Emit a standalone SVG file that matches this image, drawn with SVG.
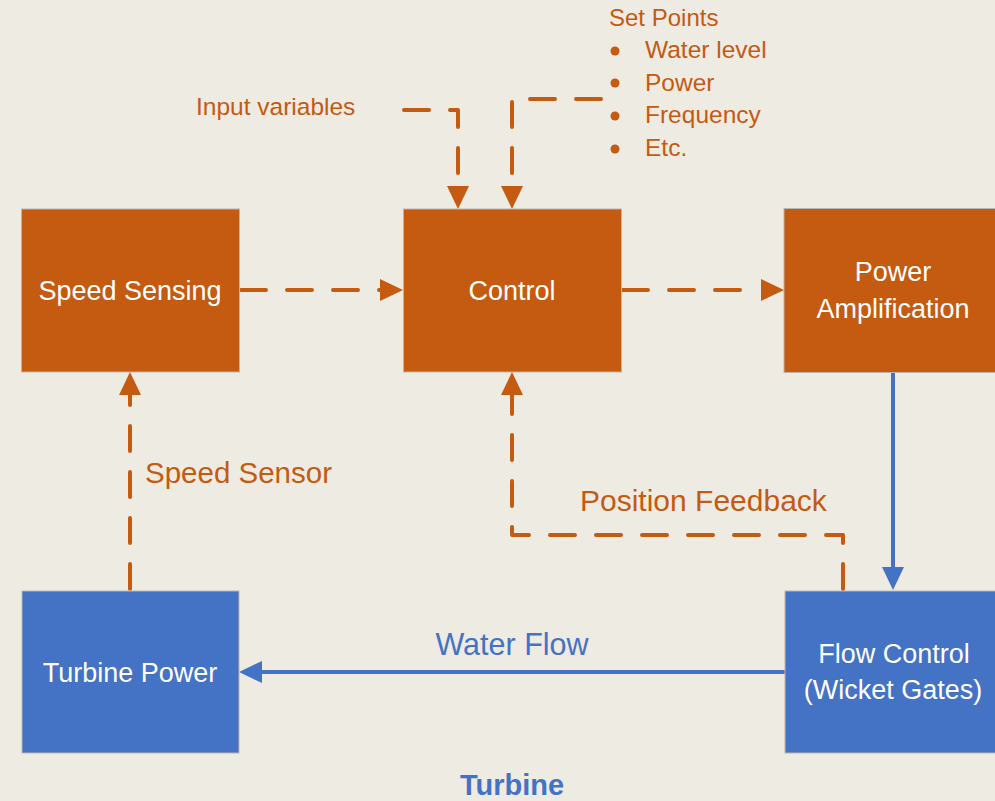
<svg xmlns="http://www.w3.org/2000/svg" width="995" height="801" viewBox="0 0 995 801">
<defs>
<style>
.bg{fill:#EEEBE3}
.or{fill:#C55A11;stroke:#BDB5AB;stroke-width:1}
.bl{fill:#4472C4;stroke:#BDB5AB;stroke-width:1}
.bt{font-family:"Liberation Sans",Arial,sans-serif;font-size:27px;fill:#FFFFFF;text-anchor:middle}
.ot{font-family:"Liberation Sans",Arial,sans-serif;fill:#C55A11}
.btx{font-family:"Liberation Sans",Arial,sans-serif;fill:#4472C4}
.dash{fill:none;stroke:#C55A11;stroke-width:4;stroke-dasharray:25 21;stroke-linecap:round;stroke-linejoin:round;marker-end:url(#ao)}
.solid{fill:none;stroke:#4472C4;stroke-width:4;marker-end:url(#ab)}
</style>
<marker id="ao" markerUnits="userSpaceOnUse" markerWidth="23" markerHeight="22" viewBox="0 0 23 22" refX="0" refY="11" orient="auto"><path d="M0,0 L23,11 L0,22 z" fill="#C55A11"/></marker>
<marker id="ab" markerUnits="userSpaceOnUse" markerWidth="23" markerHeight="22" viewBox="0 0 23 22" refX="0" refY="11" orient="auto"><path d="M0,0 L23,11 L0,22 z" fill="#4472C4"/></marker>
</defs>
<rect class="bg" x="0" y="0" width="995" height="801"/>

<g id="connectors">
<path class="dash" d="M241,290 H380"/>
<path class="dash" d="M623,290 H761"/>
<path class="dash" d="M404,110 H458 V186"/>
<path class="dash" d="M601,99 H512 V186"/>
<path class="dash" d="M130,589 V395"/>
<path class="dash" d="M843,589 V535 H512 V395"/>
<path class="solid" d="M893,372 V567"/>
<path class="solid" d="M785,672 H262"/>
</g>

<g id="speed-sensing">
<rect class="or" x="21.5" y="209" width="218" height="163"/>
<text class="bt" x="130" y="300">Speed Sensing</text>
</g>
<g id="control">
<rect class="or" x="403.5" y="209" width="218" height="163"/>
<text class="bt" x="512" y="300">Control</text>
</g>
<g id="power-amplification">
<rect class="or" x="784" y="208.5" width="218" height="164"/>
<text class="bt" x="893" y="281">Power</text>
<text class="bt" x="893" y="318">Amplification</text>
</g>
<g id="turbine-power">
<rect class="bl" x="22" y="591" width="217" height="162"/>
<text class="bt" x="130" y="682">Turbine Power</text>
</g>
<g id="flow-control">
<rect class="bl" x="785" y="591" width="218" height="162"/>
<text class="bt" x="894" y="663">Flow Control</text>
<text class="bt" x="893" y="699">(Wicket Gates)</text>
</g>

<g id="labels">
<text class="ot" x="196" y="115" font-size="24.5">Input variables</text>
<text class="ot" x="609" y="26" font-size="24">Set Points</text>
<circle cx="615" cy="51" r="4.5" fill="#C55A11"/>
<circle cx="615" cy="83" r="4.5" fill="#C55A11"/>
<circle cx="615" cy="116" r="4.5" fill="#C55A11"/>
<circle cx="615" cy="149" r="4.5" fill="#C55A11"/>
<text class="ot" x="645" y="58" font-size="24.5">Water level</text>
<text class="ot" x="645" y="91" font-size="24.5">Power</text>
<text class="ot" x="645" y="123" font-size="24.5">Frequency</text>
<text class="ot" x="645" y="156" font-size="24.5">Etc.</text>
<text class="ot" x="145" y="483" font-size="29.5">Speed Sensor</text>
<text class="ot" x="580" y="511" font-size="30">Position Feedback</text>
<text class="btx" x="512" y="655" font-size="30.5" text-anchor="middle">Water Flow</text>
<text class="btx" x="512" y="795" font-size="29" font-weight="bold" text-anchor="middle">Turbine</text>
</g>
</svg>
